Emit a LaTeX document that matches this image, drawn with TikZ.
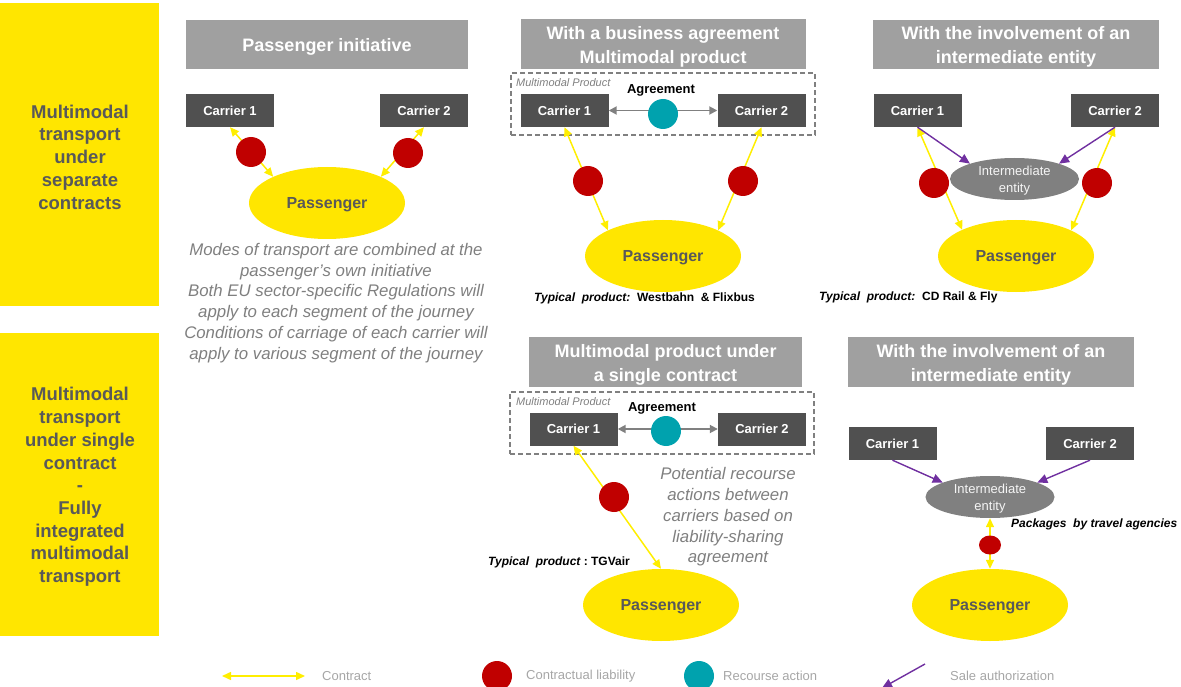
\documentclass[tikz,border=0pt]{standalone}
\usepackage{fontspec}
\setmainfont{Liberation Sans}
\usetikzlibrary{arrows.meta,shapes.geometric}
\definecolor{ey}{HTML}{FFE600}
\definecolor{eyl}{HTML}{FFEE00}
\definecolor{hdr}{HTML}{A0A0A0}
\definecolor{car}{HTML}{505050}
\definecolor{ctxt}{HTML}{595959}
\definecolor{liab}{HTML}{C00000}
\definecolor{rec}{HTML}{00A2AE}
\definecolor{sale}{HTML}{7030A0}
\definecolor{interc}{HTML}{808080}
\definecolor{note}{HTML}{7F7F7F}
\definecolor{leg}{HTML}{A6A6A6}
\definecolor{agr}{HTML}{808080}
\tikzset{
  sidebox/.style={fill=ey, draw=none, inner sep=0pt, minimum width=159pt, minimum height=303pt},
  sidetext/.style={text=ctxt, align=center, inner sep=0pt,
    font=\fontsize{18.5}{22.7}\selectfont\bfseries},
  headbox/.style={fill=hdr, inner sep=0pt},
  headtext/.style={text=white, font=\fontsize{18}{24}\selectfont\bfseries,
    align=center, inner sep=0pt},
  carrier/.style={fill=car, text=white, font=\fontsize{13}{15}\selectfont\bfseries,
    minimum width=88pt, minimum height=33pt, inner sep=0pt},
  pass/.style={ellipse, fill=ey, text=ctxt, font=\fontsize{16}{18}\selectfont\bfseries,
    minimum width=156pt, minimum height=72pt, inner sep=0pt, text depth=0pt},
  interent/.style={ellipse, fill=interc, minimum width=129pt, minimum height=42pt, inner sep=0pt},
  intertext/.style={text=white!92!gray, font=\fontsize{13}{17}\selectfont, align=center, inner sep=0pt},
  liabdot/.style={circle, fill=liab, minimum size=30pt, inner sep=0pt},
  recdot/.style={circle, fill=rec, minimum size=30pt, inner sep=0pt},
  contract/.style={draw=eyl, line width=1.5pt, {Triangle[length=9pt,width=8pt]}-{Triangle[length=9pt,width=8pt]}},
  saleauth/.style={draw=sale, line width=1.4pt, -{Triangle[length=10pt,width=9pt]}},
  agreearrow/.style={draw=agr, line width=1.8pt, {Triangle[length=8pt,width=8pt]}-{Triangle[length=8pt,width=8pt]}},
  prodbox/.style={draw=gray, line width=1.2pt, dash pattern=on 5pt off 3pt, inner sep=0pt},
  prodlabel/.style={anchor=west, text=note, font=\fontsize{11}{13}\selectfont\itshape, inner sep=0pt},
  agreelabel/.style={font=\fontsize{13}{15}\selectfont\bfseries, inner sep=0pt},
  notetxt/.style={text=note, font=\fontsize{16.8}{20.8}\selectfont\itshape, align=center, inner sep=0pt},
  typical/.style={font=\fontsize{12}{14}\selectfont\bfseries, inner sep=0pt},
  legtxt/.style={anchor=west, text=leg, font=\fontsize{13}{15}\selectfont, inner sep=0pt}
}
\begin{document}
\begin{tikzpicture}[x=1pt,y=-1pt]
\path[use as bounding box] (0,0) rectangle (1181,687);

% side boxes
\node[sidebox] (s1) at (79.5,154.5) {};
\node[sidetext] (s1t) at (80,157) {Multimodal\\transport\\under\\separate\\contracts};
\node[sidebox] (s2) at (79.5,484.5) {};
\node[sidetext] (s2t) at (80,487) {Multimodal\\transport\\under single\\contract\\-\\Fully\\integrated\\multimodal\\transport};

% headers
\node[headbox, minimum width=282pt, minimum height=49pt] (h1) at (327,44.5) {};
\node[headtext] (h1t) at (327,46.5) {Passenger initiative};
\node[headbox, minimum width=285pt, minimum height=50pt] (h2) at (663,44) {};
\node[headtext] (h2t) at (663,47) {With a business agreement\\Multimodal product};
\node[headbox, minimum width=286pt, minimum height=49pt] (h3) at (1016,44.5) {};
\node[headtext] (h3t) at (1016,47) {With the involvement of an\\intermediate entity};
\node[headbox, minimum width=273pt, minimum height=50pt] (h4) at (665.5,362) {};
\node[headtext] (h4t) at (665.5,364.5) {Multimodal product under\\a single contract};
\node[headbox, minimum width=286pt, minimum height=50pt] (h5) at (991,362) {};
\node[headtext] (h5t) at (991,364.5) {With the involvement of an\\intermediate entity};

% ---------- panel 1
\node[carrier] (c11) at (230,110.5) {Carrier 1};
\node[carrier] (c12) at (424,110.5) {Carrier 2};
\node[pass] (p1) at (327,203) {Passenger};
\draw[contract] (c11.south) -- (p1.154);
\draw[contract] (c12.south) -- (p1.26);
\node[liabdot] (d11) at (251,152) {};
\node[liabdot] (d12) at (408,153) {};
\node[notetxt] (n1) at (336,303) {Modes of transport are combined at the\\passenger’s own initiative\\Both EU sector-specific Regulations will\\apply to each segment of the journey\\Conditions of carriage of each carrier will\\apply to various segment of the journey};

% ---------- panel 2
\node[prodbox, minimum width=304pt, minimum height=62pt] (m2) at (663,104) {};
\node[prodlabel] (ml2) at (516,83) {Multimodal Product};
\node[carrier] (c21) at (564.5,110.5) {Carrier 1};
\node[carrier] (c22) at (761.5,110.5) {Carrier 2};
\node[agreelabel] (a2) at (661,90) {Agreement};
\draw[agreearrow] (c21.east) -- (c22.west);
\node[recdot] (r2) at (663,114) {};
\node[pass] (p2) at (663,256) {Passenger};
\draw[contract] (c21.south) -- (p2.155);
\draw[contract] (c22.south) -- (p2.25);
\node[liabdot] (d21) at (588,181) {};
\node[liabdot] (d22) at (743,181) {};
\node[typical, anchor=west] (t2) at (534,298) {{\itshape Typical\ \ product:}\ \ Westbahn\ \ \& Flixbus};

% ---------- panel 3
\node[carrier] (c31) at (917.5,110.5) {Carrier 1};
\node[carrier] (c32) at (1115,110.5) {Carrier 2};
\node[interent] (i3) at (1014.5,179) {};
\node[intertext] (i3t) at (1014.5,181) {Intermediate\\entity};
\node[pass] (p3) at (1016,256) {Passenger};
\draw[contract] (c31.south) -- (p3.154);
\draw[contract] (c32.south) -- (p3.25);
\draw[saleauth] (c31.south) -- (i3.161);
\draw[saleauth] (c32.south) -- (i3.19);
\node[liabdot] (d31) at (934,183) {};
\node[liabdot] (d32) at (1097,183) {};
\node[typical, anchor=west] (t3) at (819,297) {{\itshape Typical\ \ product:}\ \ CD Rail \& Fly};

% ---------- panel 4
\node[prodbox, minimum width=304pt, minimum height=62pt] (m4) at (662,423) {};
\node[prodlabel] (ml4) at (516,402) {Multimodal Product};
\node[carrier] (c41) at (573.5,429) {Carrier 1};
\node[carrier] (c42) at (762,429) {Carrier 2};
\node[agreelabel] (a4) at (662,408) {Agreement};
\draw[agreearrow] (c41.east) -- (c42.west);
\node[recdot] (r4) at (666,431) {};
\node[pass] (p4) at (661,605) {Passenger};
\draw[contract] (c41.south) -- (p4.north);
\node[liabdot] (d41) at (614,497) {};
\node[notetxt] (n4) at (728,517) {Potential recourse\\actions between\\carriers based on\\liability-sharing\\agreement};
\node[typical, anchor=west] (t4) at (488,562) {{\itshape Typical\ \ product} :\ TGVair};

% ---------- panel 5
\node[carrier] (c51) at (892.5,443.5) {Carrier 1};
\node[carrier] (c52) at (1090,443.5) {Carrier 2};
\node[interent] (i5) at (990,497) {};
\node[intertext] (i5t) at (990,499) {Intermediate\\entity};
\node[pass] (p5) at (990,605) {Passenger};
\draw[saleauth] (c51.south) -- (i5.163);
\draw[saleauth] (c52.south) -- (i5.17);
\draw[contract] (i5.south) -- (p5.north);
\node[ellipse, fill=liab, minimum width=22pt, minimum height=19pt, inner sep=0pt] (d5) at (990,545) {};
\node[typical, anchor=west] (t5) at (1011,524) {\itshape Packages\ \ by travel agencies};

% ---------- legend
\coordinate (lc1) at (222,676);
\coordinate (lc2) at (305,676);
\draw[contract] (lc1) -- (lc2);
\node[legtxt] (lt1) at (322,676) {Contract};
\node[liabdot] (ld) at (497,676) {};
\node[legtxt] (lt2) at (526,676) {Contractual liability};
\node[recdot] (lr) at (699,676) {};
\node[legtxt] (lt3) at (723,676) {Recourse action};
\coordinate (ls1) at (925,664);
\coordinate (ls2) at (882,688);
\draw[saleauth] (ls1) -- (ls2);
\node[legtxt] (lt4) at (950,676) {Sale authorization};
\end{tikzpicture}
\end{document}
